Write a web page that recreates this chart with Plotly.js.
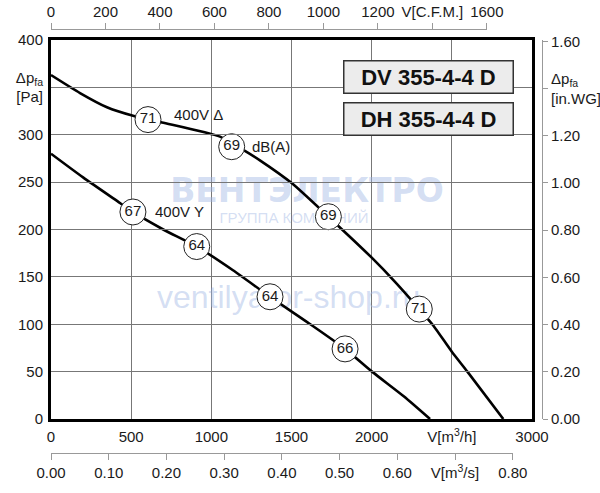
<!DOCTYPE html>
<html><head><meta charset="utf-8">
<script src="https://cdn.plot.ly/plotly-3.0.1.min.js"></script>
<style>html,body{margin:0;padding:0;background:#fff}#chart{width:600px;height:493px}</style>
</head><body><div id="chart"></div>
<script>
// ---- data ----
const flowDelta  = [0, 181, 349, 512, 692, 1054, 1199, 1303, 1501, 1730, 2002, 2150, 2297, 2383, 2500, 2597, 2821];
const pressDelta = [363, 344, 329, 320, 313, 298, 284, 273, 249, 213.5, 170, 144, 116, 99, 71, 50, 0];
const flowStar   = [0, 200, 430, 511, 700, 909, 1135, 1366, 1600, 1834, 2002, 2200, 2364];
const pressStar  = [280, 255, 228, 218.5, 200, 182, 157, 129, 102, 74, 50, 24, 0];
const markDeltaFlow  = [605, 1127, 1730, 2297];
const markDeltaPress = [316, 287.4, 213.5, 116];
const markDeltaDb    = ['71', '69', '69', '71'];
const markStarFlow   = [511, 909, 1366, 1834];
const markStarPress  = [218.5, 182, 129, 74];
const markStarDb     = ['67', '64', '64', '66'];
const curveLabels    = ['400V Δ', 'dB(A)', '400V Y'];
const curveLabelFlow = [755, 1241, 636];
const curveLabelPress= [321, 288, 218.5];
const modelNames     = ['DV 355-4-4 D', 'DH 355-4-4 D'];
const watermarkTexts = ['ВЕНТЭЛЕКТРО', 'ГРУППА КОМПАНИЙ', 'ventilyator-shop.ru'];

const flowTicks    = [0, 500, 1000, 1500, 2000, 2500, 3000];
const flowTickText = ['0', '500', '1000', '1500', '2000', 'V[m<sup>3</sup>/h]', '3000'];
const paTicks      = [0, 50, 100, 150, 200, 250, 300, 350, 400];
const paTickText   = ['0', '50', '100', '150', '200', '250', '300', 'Δp<sub>fa</sub><br>[Pa]', '400'];
const cfmTicks     = [0, 200, 400, 600, 800, 1000, 1200, 1400, 1600];
const cfmTickText  = ['0', '200', '400', '600', '800', '1000', '1200', 'V[C.F.M.]', '1600'];
const m3sTicks     = [0, 0.1, 0.2, 0.3, 0.4, 0.5, 0.6, 0.7, 0.8];
const m3sTickText  = ['0.00', '0.10', '0.20', '0.30', '0.40', '0.50', '0.60', 'V[m<sup>3</sup>/s]', '0.80'];
const inwgTicks    = [0, 0.2, 0.4, 0.6, 0.8, 1.0, 1.2, 1.4, 1.6];
const inwgTickText = ['0.00', '0.20', '0.40', '0.60', '0.80', '1.00', '1.20', 'Δp<sub>fa</sub><br>[in.WG]', '1.60'];

// unit conversions
const M3H_PER_CFM = 1.699011;
const PA_PER_INWG = 249.089;
const FLOW_MAX = 3000, PRESS_MAX = 400;

// ---- layout geometry ----
const W = 600, H = 493;
const M = {l: 51, r: 58, t: 29, b: 40};
const pw = W - M.l - M.r, ph = H - M.t - M.b;
const plotRight = 532, plotTop = 40, plotBottom = 419;
const xFrac = (plotRight - M.l) / pw;
const yDom = [(H - M.b - plotBottom) / ph, (H - M.b - plotTop) / ph];

const FONT = 'Liberation Sans, Arial, sans-serif';
const TXT = '#1a1a1a';
const WM = 'rgba(160,182,228,0.45)';

function px2x(p) { return (p - M.l) / (plotRight - M.l) * FLOW_MAX; }
function px2y(p) { return (plotBottom - p) / (plotBottom - plotTop) * PRESS_MAX; }

const traces = [
  {x: [px2x(307)], y: [px2y(194)], mode: 'text', text: [watermarkTexts[0]], textposition: 'middle center',
   textfont: {family: 'DejaVu Sans', size: 33, color: WM, weight: 'bold'}, hoverinfo: 'skip', showlegend: false},
  {x: [px2x(294)], y: [px2y(219)], mode: 'text', text: [watermarkTexts[1]], textposition: 'middle center',
   textfont: {family: FONT, size: 15, color: WM}, hoverinfo: 'skip', showlegend: false},
  {x: [px2x(157)], y: [px2y(300)], mode: 'text', text: [watermarkTexts[2]], textposition: 'middle right',
   textfont: {family: FONT, size: 32, color: WM}, hoverinfo: 'skip', showlegend: false},
  {x: flowDelta, y: pressDelta, mode: 'lines', line: {color: '#000', width: 2.6, shape: 'spline', smoothing: 0.6},
   hoverinfo: 'skip', showlegend: false},
  {x: flowStar, y: pressStar, mode: 'lines', line: {color: '#000', width: 2.6, shape: 'spline', smoothing: 0.6},
   hoverinfo: 'skip', showlegend: false},
  {x: markDeltaFlow, y: markDeltaPress, text: markDeltaDb, mode: 'markers+text', textposition: 'middle center',
   marker: {size: 26, color: '#fff', line: {color: '#222', width: 1}},
   textfont: {family: FONT, size: 15, color: TXT}, hoverinfo: 'skip', showlegend: false, cliponaxis: false},
  {x: markStarFlow, y: markStarPress, text: markStarDb, mode: 'markers+text', textposition: 'middle center',
   marker: {size: 26, color: '#fff', line: {color: '#222', width: 1}},
   textfont: {family: FONT, size: 15, color: TXT}, hoverinfo: 'skip', showlegend: false, cliponaxis: false},
  // carriers for the secondary scales
  {x: [0], y: [0], xaxis: 'x2', yaxis: 'y', mode: 'markers', marker: {opacity: 0}, hoverinfo: 'skip', showlegend: false},
  {x: [0], y: [0], xaxis: 'x3', yaxis: 'y', mode: 'markers', marker: {opacity: 0}, hoverinfo: 'skip', showlegend: false},
  {x: [0], y: [0], xaxis: 'x', yaxis: 'y2', mode: 'markers', marker: {opacity: 0}, hoverinfo: 'skip', showlegend: false}
];

const tickFont = {family: FONT, size: 15, color: TXT};
const annotations = [];
curveLabels.forEach((t, i) => annotations.push({
  x: curveLabelFlow[i], y: curveLabelPress[i], xref: 'x', yref: 'y', text: t, showarrow: false,
  xanchor: 'left', yanchor: 'middle', font: {family: FONT, size: 15, color: TXT}
}));
const boxCenters = [76.5, 118.5];
modelNames.forEach((t, i) => annotations.push({
  x: (428.5 - M.l) / pw, y: (H - M.b - boxCenters[i]) / ph, xref: 'paper', yref: 'paper',
  text: '<b>' + t + '</b>', showarrow: false, xanchor: 'center', yanchor: 'middle',
  width: 166, height: 29, bgcolor: '#ececec', bordercolor: '#333', borderwidth: 1.5, borderpad: 1,
  font: {family: FONT, size: 22, color: '#111'}
}));

const layout = {
  width: W, height: H,
  margin: M,
  paper_bgcolor: '#fff', plot_bgcolor: 'rgba(0,0,0,0)',
  font: {family: FONT, size: 15, color: TXT},
  showlegend: false,
  xaxis: {
    domain: [0, xFrac], range: [0, FLOW_MAX], tickvals: flowTicks, ticktext: flowTickText,
    showgrid: true, gridcolor: '#777', gridwidth: 1, zeroline: false,
    showline: true, linecolor: '#000', linewidth: 3, mirror: true,
    ticks: 'outside', ticklen: 2, tickcolor: 'rgba(0,0,0,0)', tickfont: tickFont, fixedrange: true
  },
  yaxis: {
    domain: yDom, range: [0, PRESS_MAX], tickvals: paTicks, ticktext: paTickText,
    showgrid: true, gridcolor: '#777', gridwidth: 1, zeroline: false,
    showline: true, linecolor: '#000', linewidth: 3, mirror: true,
    ticks: 'outside', ticklen: 2, tickcolor: 'rgba(0,0,0,0)', tickfont: tickFont, fixedrange: true
  },
  xaxis2: {
    domain: [0, 1600 * M3H_PER_CFM / FLOW_MAX * xFrac], range: [0, 1600],
    anchor: 'free', position: 1, side: 'top',
    tickvals: cfmTicks, ticktext: cfmTickText, showgrid: false, zeroline: false,
    showline: true, linecolor: '#999', linewidth: 1, ticks: 'outside', ticklen: 6, tickcolor: '#999',
    tickfont: tickFont, fixedrange: true
  },
  xaxis3: {
    domain: [0, 0.8 * 3600 / FLOW_MAX * xFrac], range: [0, 0.8],
    anchor: 'free', position: 0, side: 'bottom',
    tickvals: m3sTicks, ticktext: m3sTickText, showgrid: false, zeroline: false,
    showline: true, linecolor: '#999', linewidth: 1, ticks: 'outside', ticklen: 6, tickcolor: '#999',
    tickfont: tickFont, fixedrange: true
  },
  yaxis2: {
    overlaying: 'y', side: 'right', anchor: 'free', position: 1,
    range: [0, PRESS_MAX / PA_PER_INWG], tickvals: inwgTicks, ticktext: inwgTickText,
    showgrid: false, zeroline: false,
    showline: true, linecolor: '#999', linewidth: 1, ticks: 'outside', ticklen: 5, tickcolor: '#999',
    tickfont: tickFont, fixedrange: true
  },
  annotations: annotations
};

Plotly.newPlot('chart', traces, layout, {displayModeBar: false, staticPlot: true});
</script>
</body></html>
